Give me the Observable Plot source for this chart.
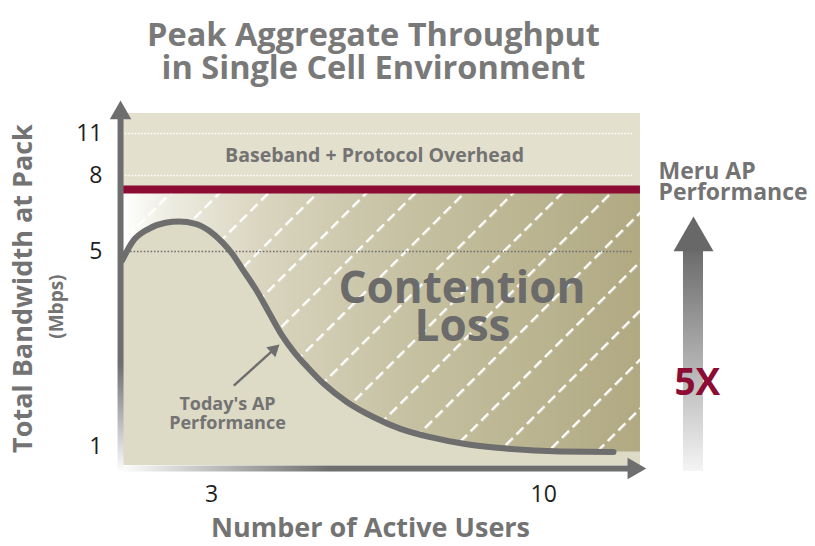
<!DOCTYPE html>
<html><head><meta charset="utf-8">
<script src="https://cdn.jsdelivr.net/npm/d3@7"></script>
<script src="https://cdn.jsdelivr.net/npm/@observablehq/plot@0.6"></script>
<style>
html,body{margin:0;padding:0;background:#fff;}
#title{width:747px;height:95px;box-sizing:border-box;padding-top:17px;text-align:center;font-family:"Open Sans",sans-serif;font-weight:700;font-size:32.5px;line-height:33px;color:#797979;}
#chart svg{display:block;}
</style></head><body>
<div id="title">Peak Aggregate Throughput<br>in Single Cell Environment</div>
<div id="chart"></div>
<script>
// ---- data ----
const activeUsers = [1.115, 1.326, 1.676, 2.028, 2.308, 2.66, 2.941, 3.223, 3.434, 3.645, 3.925, 4.206, 4.473, 4.747, 5.021, 5.365, 5.858, 6.419, 6.982, 7.614, 8.316, 9.02, 10.354, 11.472];
const todaysAP    = [4.815, 5.367, 5.896, 6.133, 6.184, 6.093, 5.829, 5.367, 4.953, 4.645, 4.235, 3.755, 3.297, 2.928, 2.627, 2.286, 1.909, 1.601, 1.363, 1.191, 1.055, 0.973, 0.897, 0.887];
const yTicks = [1, 5, 8, 11];
const xTicks = [3, 10];
const meruLevel = 7.45;          // Mbps, red line
const overheadLines = [8, 11];   // white dotted
const refLine = [5];             // dark dotted
const labels = {
  overhead: "Baseband + Protocol Overhead",
  loss: ["Contention", "Loss"],
  today: ["Today's AP", "Performance"],
  meru: ["Meru AP", "Performance"],
  gain: "5X",
  xLabel: "Number of Active Users",
  yLabel: ["Total Bandwidth at Pack", "(Mbps)"]
};

// ---- chart frame (data units) ----
const xMin = 1.1, xMax = 12.04, yMin = 0.61, yMax = 12.43;
const curve = activeUsers.map((x, i) => ({x, y: todaysAP[i]}));
const area = [...curve, {x: xMax, y: todaysAP[todaysAP.length - 1]}];

const FONT = "Open Sans";
const GREY = "#6e6e6e";
const TXT = "#737373";
const RED = "#8c0c33";
const W = 700;

const svg = Plot.plot({
  width: 815, height: 451,
  marginLeft: 104, marginRight: 0, marginTop: 0, marginBottom: 63,
  style: {fontFamily: FONT, fontSize: "23px", color: "#1e1e1e", background: "transparent", overflow: "visible"},
  x: {domain: [0.742, 15.73], ticks: xTicks, tickSize: 0, tickPadding: 2, label: null},
  y: {type: "linear", domain: [0.4, 1, 5, 8, 11, 13.3], range: [380.25, 351, 156, 80, 38, 5.8],
      ticks: yTicks, tickSize: 0, tickPadding: 2, label: null},
  marks: [
    Plot.rect([0], {x1: xMin, x2: xMax, y1: yMin, y2: yMax, fill: "#dddac5"}),
    Plot.rect([0], {x1: xMin, x2: xMax, y1: meruLevel, y2: yMax, fill: "#e3e0cd"}),
    Plot.areaY(area, {x: "x", y1: "y", y2: meruLevel, curve: "monotone-x", fill: "url(#cgrad)"}),
    Plot.areaY(area, {x: "x", y1: "y", y2: meruLevel, curve: "monotone-x", fill: "url(#hatch)"}),
    Plot.ruleY(overheadLines, {x1: 1.12, x2: 11.87, stroke: "#ffffff", strokeWidth: 1.6, strokeDasharray: "1.6 1.6"}),
    Plot.ruleY(refLine, {x1: 1.15, x2: 11.87, stroke: "#707070", strokeWidth: 1.6, strokeDasharray: "1.6 1.8"}),
    Plot.ruleY([meruLevel], {x1: xMin, x2: xMax, stroke: RED, strokeWidth: 8}),
    Plot.line(curve, {x: "x", y: "y", curve: "monotone-x", stroke: GREY, strokeWidth: 6, strokeLinecap: "round"}),
    // annotations
    Plot.text([labels.overhead], {x: 6.434, y: 9.43, text: d => d, fontSize: 19.5, fontWeight: W, fill: TXT}),
    Plot.text([labels.loss[0]], {x: 8.278, y: 4.23, text: d => d, fontSize: 44, fontWeight: W, fill: "#6b6b6b"}),
    Plot.text([labels.loss[1]], {x: 8.289, y: 3.45, text: d => d, fontSize: 44, fontWeight: W, fill: "#6b6b6b"}),
    Plot.text([labels.today[0]], {x: 3.335, y: 1.872, text: d => d, fontSize: 18, fontWeight: W, fill: TXT}),
    Plot.text([labels.today[1]], {x: 3.335, y: 1.482, text: d => d, fontSize: 18, fontWeight: W, fill: TXT}),
    Plot.link([0], {x1: 3.468, y1: 2.25, x2: 4.309, y2: 2.986, stroke: GREY, strokeWidth: 2.5}),
    Plot.dot([0], {x: 4.309, y: 2.986, symbol: "triangle", r: 5, fill: GREY, stroke: "none", rotate: 48}),
    // axes arrows
    Plot.ruleY([0.55], {x1: 1.06, x2: 11.9, stroke: "url(#xgrad)", strokeWidth: 6}),
    Plot.dot([0], {x: 11.9, y: 0.55, symbol: "triangle", r: 8, fill: GREY, stroke: "none", rotate: 90}),
    Plot.ruleX([1.08], {y1: 0.5, y2: 12.3, stroke: "url(#ygrad)", strokeWidth: 6}),
    Plot.dot([0], {x: 1.08, y: 12.47, symbol: "triangle", r: 8, fill: GREY, stroke: "none"}),
    // Meru arrow
    Plot.rect([0], {x1: 12.947, x2: 13.369, y1: 0.49, y2: 5.1, fill: "url(#mgrad)"}),
    Plot.dot([0], {x: 13.158, y: 5.47, symbol: "triangle", r: 14.85, fill: "#686868", stroke: "none"}),
    Plot.text([labels.gain], {x: 13.24, y: 2.29, text: d => d, fontSize: 37, fontWeight: 700, fill: RED}),
    Plot.text([labels.meru[0]], {x: 12.42, y: 8.27, text: d => d, fontSize: 23, fontWeight: W, fill: TXT, textAnchor: "start"}),
    Plot.text([labels.meru[1]], {x: 12.42, y: 7.32, text: d => d, fontSize: 23, fontWeight: W, fill: TXT, textAnchor: "start"}),
    // axis titles
    Plot.text([labels.xLabel], {x: 6.35, y: -0.688, text: d => d, fontSize: 27, fontWeight: W, fill: TXT}),
    Plot.text([labels.yLabel[0]], {x: -0.965, y: 4.24, text: d => d, fontSize: 27, fontWeight: W, fill: TXT, rotate: -90}),
    Plot.text([labels.yLabel[1]], {x: -0.27, y: 3.87, text: d => d, fontSize: 19, fontWeight: W, fill: TXT, rotate: -90})
  ]
});

// gradients and hatch pattern
const defs = d3.select(svg).insert("defs", ":first-child");
const lg = (id, attrs, stops) => {
  const g = defs.append("linearGradient").attr("id", id);
  for (const [k, v] of Object.entries(attrs)) g.attr(k, v);
  for (const [o, c] of stops) g.append("stop").attr("offset", o).attr("stop-color", c);
};
lg("cgrad", {gradientUnits: "userSpaceOnUse", x1: 122, x2: 640, y1: 0, y2: 0},
   [[0, "#ffffff"], [0.1, "#ecebdf"], [0.27, "#d9d5bf"], [0.55, "#c6c1a2"], [1, "#b0a982"]]);
lg("xgrad", {gradientUnits: "userSpaceOnUse", x1: 118, x2: 330, y1: 0, y2: 0},
   [[0, "#ffffff"], [1, GREY]]);
lg("ygrad", {gradientUnits: "userSpaceOnUse", x1: 0, x2: 0, y1: 378, y2: 270},
   [[0, "#ffffff"], [1, GREY]]);
lg("mgrad", {x1: 0, x2: 0, y1: 0, y2: 1},
   [[0, "#6a6a6a"], [1, "#f4f4f4"]]);
const pat = defs.append("pattern").attr("id", "hatch").attr("patternUnits", "userSpaceOnUse")
  .attr("width", 34.6).attr("height", 15).attr("patternTransform", "rotate(45)");
pat.append("line").attr("x1", 17).attr("x2", 17).attr("y1", 0).attr("y2", 15)
  .attr("stroke", "#ffffff").attr("stroke-width", 2.4).attr("stroke-dasharray", "10 5");

document.getElementById("chart").appendChild(svg);
</script>
</body></html>
